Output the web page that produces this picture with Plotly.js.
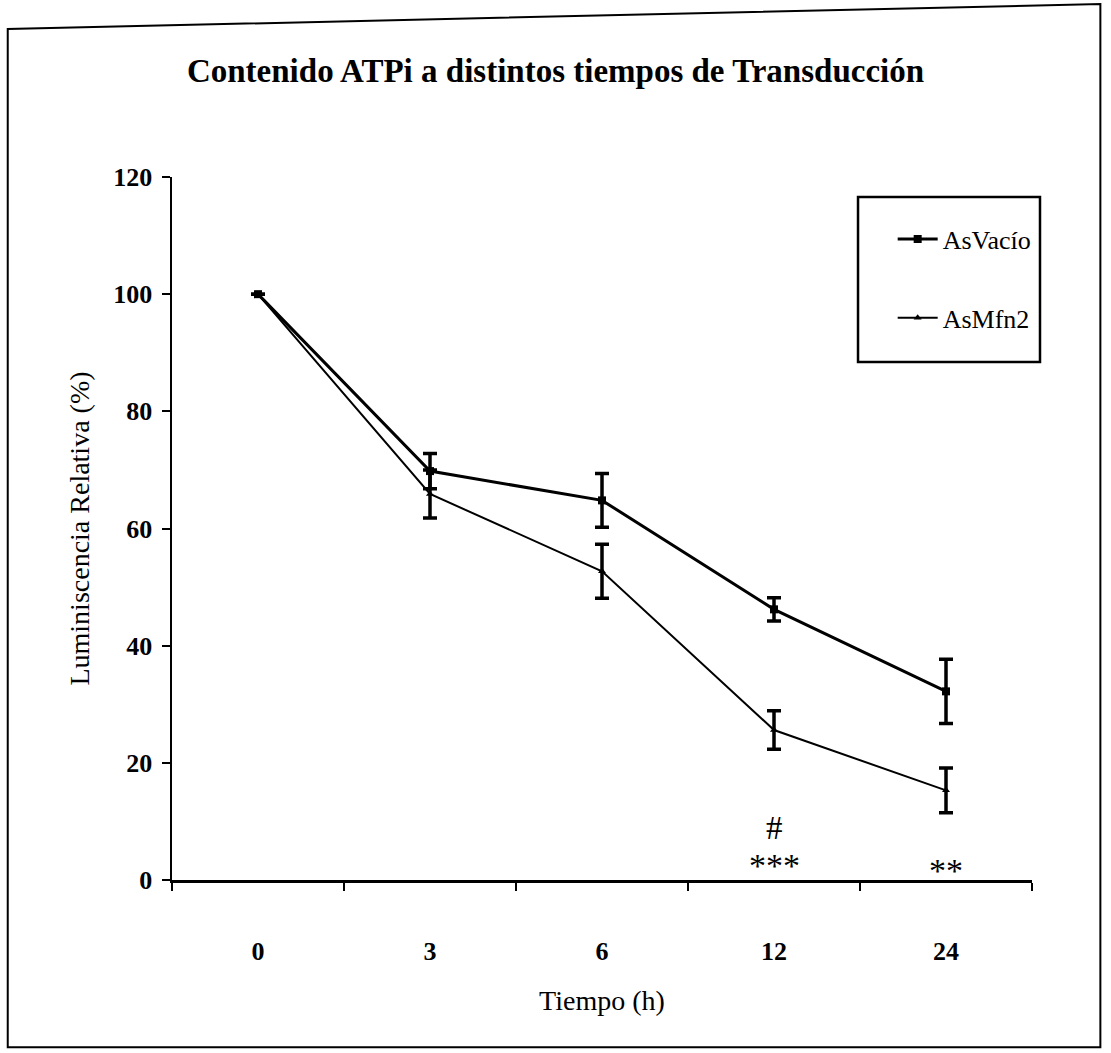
<!DOCTYPE html>
<html>
<head>
<meta charset="utf-8">
<script src="https://cdn.plot.ly/plotly-3.0.1.min.js"></script>
<style>html,body{margin:0;padding:0;background:#fff;}#chart{width:1111px;height:1053px;}</style>
</head>
<body>
<div id="chart"></div>
<script>
// ---- data ----
const categories = ['0', '3', '6', '12', '24'];
const seriesNames = ['AsVacío', 'AsMfn2'];
const asVacio = [100, 69.8, 64.8, 46.2, 32.2];
const asVacioErr = [null, 3.0, 4.6, 2.0, 5.5];
const asMfn2 = [100, 65.9, 52.7, 25.6, 15.3];
const asMfn2Err = [null, 4.1, 4.6, 3.3, 3.8];
const yTicks = [0, 20, 40, 60, 80, 100, 120];
const sigText = ['#', '***', '**'];
const sigCat = ['12', '12', '24'];

const serif = 'Liberation Serif, Times New Roman, serif';

const traces = [
  {
    x: categories, y: asVacio, name: seriesNames[0], type: 'scatter', mode: 'lines+markers',
    legendgroup: 'a',
    line: {color: '#000', width: 3},
    marker: {symbol: 'square', size: 8, color: '#000'},
    error_y: {type: 'data', array: asVacioErr, visible: true, color: '#000', thickness: 3.5, width: 7}
  },
  {
    x: categories, y: asMfn2, name: seriesNames[1], type: 'scatter', mode: 'lines+markers',
    legendgroup: 'b',
    line: {color: '#000', width: 2},
    marker: {symbol: 'triangle-up', size: 7, color: '#000'},
    error_y: {type: 'data', array: asMfn2Err, visible: true, color: '#000', thickness: 3.5, width: 7}
  }
];

// vertical placement of the significance marks (styling, in axis units)
const sigY = [8.8, 2.4, 1.7];
const sigSize = [33, 34, 34];
const annotations = sigText.map((t, i) => ({
  x: categories.indexOf(sigCat[i]), y: sigY[i], xref: 'x', yref: 'y', text: t, showarrow: false,
  font: {family: serif, size: sigSize[i], color: '#000'}
}));

const layout = {
  width: 1111, height: 1053,
  margin: {l: 172, r: 79, t: 177, b: 173},
  paper_bgcolor: '#fff', plot_bgcolor: '#fff',
  font: {family: serif, color: '#000'},
  title: {
    text: 'Contenido ATPi a distintos tiempos de Transducción',
    font: {family: serif, size: 33, weight: 'bold', color: '#000'},
    xref: 'container', x: 0.5, xanchor: 'center',
    yref: 'container', y: 0.933, yanchor: 'middle'
  },
  xaxis: {
    type: 'category', range: [-0.5, 4.5],
    showline: true, linecolor: '#000', linewidth: 2.5,
    ticks: 'outside', tickson: 'boundaries', ticklen: 8, tickwidth: 2, tickcolor: '#000',
    showgrid: false, zeroline: false,
    ticklabelstandoff: 46,
    tickfont: {family: serif, size: 26, weight: 'bold', color: '#000'},
    title: {text: 'Tiempo (h)', font: {family: serif, size: 28, color: '#000'}, standoff: 26}
  },
  yaxis: {
    range: [0, 120], tickvals: yTicks, ticktext: yTicks.map(String),
    showline: true, linecolor: '#000', linewidth: 2.5,
    ticks: 'outside', ticklen: 8, tickwidth: 2, tickcolor: '#000',
    showgrid: false, zeroline: false,
    ticklabelstandoff: 4,
    tickfont: {family: serif, size: 26, weight: 'bold', color: '#000'},
    title: {text: 'Luminiscencia Relativa (%)', font: {family: serif, size: 28, color: '#000'}, standoff: 16}
  },
  showlegend: true,
  legend: {
    x: 0.838, y: 0.945, xanchor: 'left', yanchor: 'top',
    bgcolor: 'rgba(0,0,0,0)', borderwidth: 0,
    font: {family: serif, size: 26, color: '#000'},
    traceorder: 'grouped', tracegroupgap: 42, itemwidth: 40
  },
  shapes: [
    // outer frame (scanned page is slightly tilted)
    {type: 'path', xref: 'paper', yref: 'paper',
     path: 'M -0.191,-0.238 L -0.191,1.2105 L 1.0795,1.246 L 1.0795,-0.238 Z',
     line: {color: '#000', width: 2}},
    // legend box
    {type: 'rect', xref: 'paper', yref: 'paper', x0: 0.7977, x1: 1.0093, y0: 0.7368, y1: 0.9716,
     line: {color: '#000', width: 2.5}}
  ],
  annotations: annotations
};

Plotly.newPlot('chart', traces, layout, {displayModeBar: false, staticPlot: true});
</script>
</body>
</html>
